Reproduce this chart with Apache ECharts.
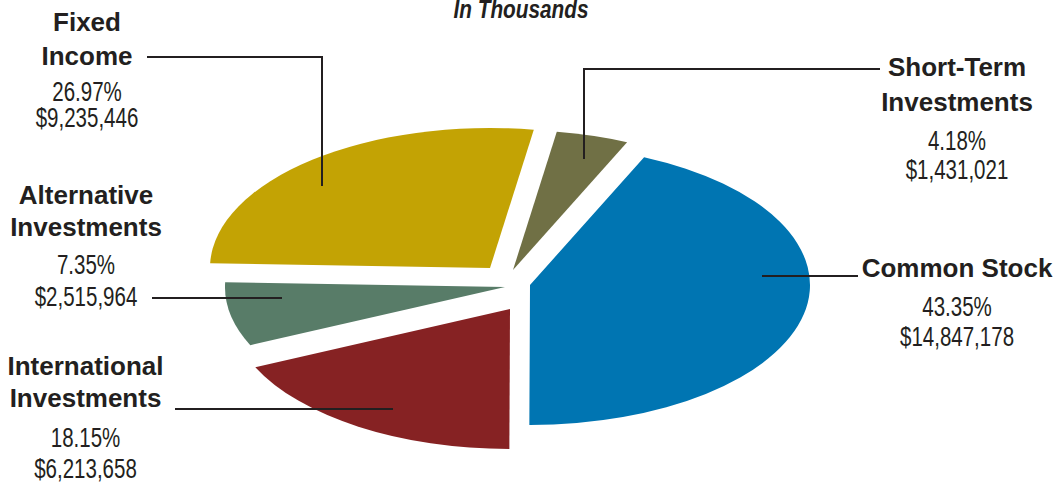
<!DOCTYPE html>
<html>
<head>
<meta charset="utf-8">
<script src="https://cdn.jsdelivr.net/npm/echarts@6/dist/echarts.min.js"></script>
<style>
html,body{margin:0;padding:0;background:#fff;}
#chart{width:1060px;height:483px;}
</style>
</head>
<body>
<div id="chart"></div>
<script>
// ---- data ----
const categories = ['Short-Term Investments', 'Common Stock', 'International Investments', 'Alternative Investments', 'Fixed Income'];
const amounts = [1431021, 14847178, 6213658, 2515964, 9235446]; // in thousands of $
const percents = [4.18, 43.35, 18.15, 7.35, 26.97];
const nameLines = [['Short-Term', 'Investments'], ['Common Stock'], ['International', 'Investments'], ['Alternative', 'Investments'], ['Fixed', 'Income']];
const subtitle = 'In Thousands';

// ---- style ----
const colors = ['#707045', '#0075B2', '#862223', '#587C68', '#C3A304'];
const CX = 508, CY = 285, RX = 280, RY = 140, START = 81;
const explode = [[5, -15], [22, 0], [2, 24], [-3, 2], [-18, -17]];
const labelX = [957, 957, 85.5, 86, 87];
const labelY = [[66.7, 102, 140, 169], [268, 306, 336], [366, 398, 437.5, 468], [195, 226.7, 264, 296], [22, 55.5, 91, 117]];
const leaders = [
  [[880, 69], [584, 69], [584, 159]],
  [[762, 276], [858, 276]],
  [[175, 409], [393, 409]],
  [[152, 298], [282, 298]],
  [[147, 57], [322, 57], [322, 186]]
];
const TXT = '#231f20';
const FONT = '"Liberation Sans", Arial, Helvetica, sans-serif';
const NARROW = 0.76;

const total = amounts.reduce((a, b) => a + b, 0);
const cumBefore = amounts.map((v, i) => amounts.slice(0, i).reduce((a, b) => a + b, 0));

function fmtMoney(v) { return '$' + v.toLocaleString('en-US'); }

const graphics = [];
graphics.push({
  type: 'text', x: 521, y: 9, scaleX: 0.8,
  style: { text: subtitle, fill: TXT, font: 'italic bold 26px ' + FONT, textAlign: 'center', textVerticalAlign: 'middle' }
});
categories.forEach((c, i) => {
  const lines = nameLines[i].map(t => ({ t, font: 'bold 26px ' + FONT, sx: 1 }))
    .concat([
      { t: percents[i].toFixed(2) + '%', font: '27px ' + FONT, sx: NARROW },
      { t: fmtMoney(amounts[i]), font: '27px ' + FONT, sx: NARROW }
    ]);
  lines.forEach((ln, k) => {
    graphics.push({
      type: 'text', x: labelX[i], y: labelY[i][k], scaleX: ln.sx,
      style: { text: ln.t, fill: TXT, font: ln.font, textAlign: 'center', textVerticalAlign: 'middle' }
    });
  });
  graphics.push({
    type: 'polyline', shape: { points: leaders[i] },
    style: { stroke: TXT, lineWidth: 2, fill: null }, z: 10
  });
});

const chart = echarts.init(document.getElementById('chart'), null, { renderer: 'svg' });
chart.setOption({
  animation: false,
  backgroundColor: '#fff',
  series: [{
    type: 'custom',
    coordinateSystem: 'none',
    data: amounts.map((v, i) => ({ name: categories[i], value: [v, i] })),
    renderItem: function (params, api) {
      const i = params.dataIndex;
      const v = api.value(0);
      const a1 = START - 360 * cumBefore[i] / total;
      const a2 = a1 - 360 * v / total;
      return {
        type: 'sector',
        x: CX + explode[i][0],
        y: CY + explode[i][1],
        scaleX: 1,
        scaleY: RY / RX,
        shape: { cx: 0, cy: 0, r0: 0, r: RX, startAngle: -a1 * Math.PI / 180, endAngle: -a2 * Math.PI / 180, clockwise: true },
        style: { fill: colors[i] }
      };
    },
    z: 1
  }],
  graphic: graphics
});
</script>
</body>
</html>
